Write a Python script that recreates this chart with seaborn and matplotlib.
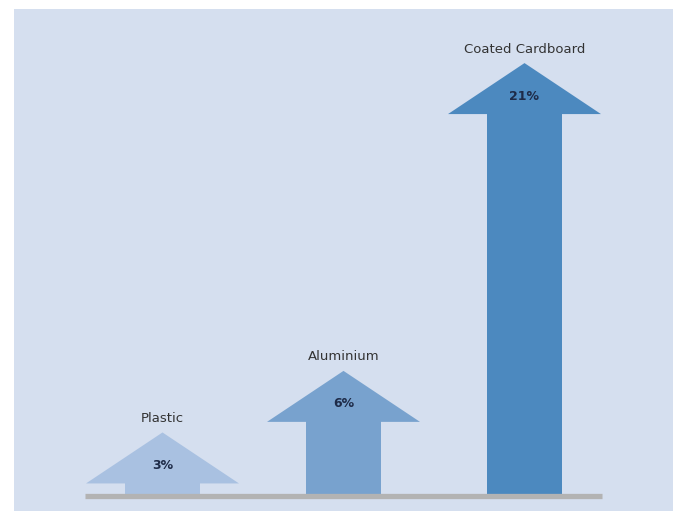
import matplotlib
matplotlib.use("Agg")
import matplotlib.pyplot as plt
from matplotlib.patches import Polygon
import seaborn as sns
import pandas as pd

categories = ["Plastic", "Aluminium", "Coated Cardboard"]
values = [3, 6, 21]
value_labels = ["3%", "6%", "21%"]
colors = ["#a9c1e1", "#78a2ce", "#4c89bf"]

sns.set_theme(style="white")
plt.rcParams['font.family'] = ['DejaVu Sans']

W, H = 673, 511
fig = plt.figure(figsize=(W / 100, H / 100), dpi=100)
fig.patch.set_facecolor("white")
ax = fig.add_axes([14 / W, 0, (W - 14) / W, (H - 9) / H])
ax.set_facecolor("#d5dfef")

df = pd.DataFrame({"cat": categories, "val": values})

px_per_x = 181.0
px_per_y = 20.52
head_h = 51 / px_per_y
head_hw = 153 / 2 / px_per_x
shaft_w = 75 / px_per_x

df["shaft"] = df["val"] - head_h + 0.05
sns.barplot(data=df, x="cat", y="shaft", hue="cat", palette=colors,
            width=shaft_w, legend=False, ax=ax, saturation=1, linewidth=0)

for i, (v, c) in enumerate(zip(values, colors)):
    ax.add_patch(Polygon([(i - head_hw, v - head_h), (i + head_hw, v - head_h), (i, v)],
                         closed=True, facecolor=c, edgecolor="none", zorder=3))
    ax.text(i, v + 14 / px_per_y, categories[i], ha="center", va="center",
            fontsize=9.5, color="#333333")
    ax.text(i, v - 33 / px_per_y, value_labels[i], ha="center", va="center",
            fontsize=9, color="#1e2b48", fontweight="bold")

ax.plot([-77.5 / px_per_x, 439.5 / px_per_x], [-1.5 / px_per_y] * 2,
        color="#b3b3b3", lw=3.8, solid_capstyle="butt", zorder=4)

ax.set_xlim(-(162.5 - 14) / px_per_x, -(162.5 - 14) / px_per_x + (W - 14) / px_per_x)
ax.set_ylim(-(511 - 494) / px_per_y, (494 - 9) / px_per_y)
ax.set_xlabel("")
ax.set_ylabel("")
ax.set_xticks([])
ax.set_yticks([])
for s in ax.spines.values():
    s.set_visible(False)

fig.savefig("out.png", dpi=100)
